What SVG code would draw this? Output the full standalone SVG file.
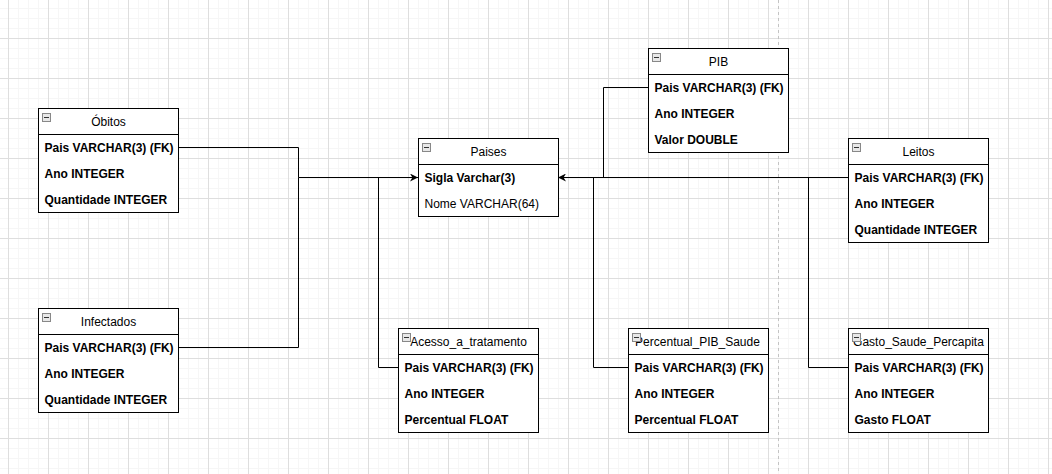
<svg xmlns="http://www.w3.org/2000/svg" width="1052" height="474" viewBox="0 0 1052 474">
<defs>
<pattern id="minor" x="8" y="-2" width="10" height="10" patternUnits="userSpaceOnUse">
<path d="M0.5 0V10M0 0.5H10" fill="none" stroke="#f6f6f6" stroke-width="1"/>
</pattern>
<pattern id="major" x="8" y="-2" width="40" height="40" patternUnits="userSpaceOnUse">
<path d="M0.5 0V40M0 0.5H40" fill="none" stroke="#dedede" stroke-width="1"/>
</pattern>
<marker id="arr" viewBox="0 0 10 10" refX="10" refY="5" markerWidth="8" markerHeight="8" markerUnits="userSpaceOnUse" orient="auto">
<path d="M0 0L10 5L0 10L3 5Z" fill="#000"/>
</marker>
<g id="icon">
<rect x="0.5" y="0.5" width="8" height="8" fill="#e8e8e8" stroke="#888"/>
<path d="M2 4.5H7" stroke="#333" stroke-width="1"/>
</g>
</defs>
<style>
.box{fill:#fff;stroke:#000;stroke-width:1}
.hd{font-family:"Liberation Sans",Arial,sans-serif;font-size:12px;fill:#000;text-anchor:middle}
.fld{font-family:"Liberation Sans",Arial,sans-serif;font-size:12px;font-weight:bold;fill:#000}
.nfld{font-family:"Liberation Sans",Arial,sans-serif;font-size:12px;fill:#000}
.ln{fill:none;stroke:#000;stroke-width:1}
</style>
<rect width="1052" height="474" fill="#fff"/>
<rect width="1052" height="474" fill="url(#minor)"/>
<rect width="1052" height="474" fill="url(#major)"/>
<line x1="778.5" y1="0" x2="778.5" y2="474" stroke="#c4c4c4" stroke-width="1" stroke-dasharray="3,3"/>

<g id="connectors">
<path class="ln" d="M178 147.5H298.5V177.5"/>
<path class="ln" d="M178 347.5H298.5V177.5"/>
<path class="ln" d="M398 367.5H378.5V177.5"/>
<path class="ln" d="M298.5 177.5H418" marker-end="url(#arr)"/>
<path class="ln" d="M648 87.5H603.5V177.5"/>
<path class="ln" d="M628 367.5H593.5V177.5"/>
<path class="ln" d="M848 367.5H808.5V177.5"/>
<path class="ln" d="M848 177.5H558" marker-end="url(#arr)"/>
</g>

<g id="obitos">
<rect class="box" x="38.5" y="108.5" width="140" height="104"/>
<line class="ln" x1="38.5" y1="134.5" x2="178.5" y2="134.5"/>
<use href="#icon" x="42" y="113"/>
<text class="hd" x="108.5" y="125.5">Óbitos</text>
<text class="fld" x="44.5" y="151.5">Pais VARCHAR(3) (FK)</text>
<text class="fld" x="44.5" y="177.5">Ano INTEGER</text>
<text class="fld" x="44.5" y="203.5">Quantidade INTEGER</text>
</g>

<g id="infectados">
<rect class="box" x="38.5" y="308.5" width="140" height="104"/>
<line class="ln" x1="38.5" y1="334.5" x2="178.5" y2="334.5"/>
<use href="#icon" x="42" y="313"/>
<text class="hd" x="108.5" y="325.5">Infectados</text>
<text class="fld" x="44.5" y="351.5">Pais VARCHAR(3) (FK)</text>
<text class="fld" x="44.5" y="377.5">Ano INTEGER</text>
<text class="fld" x="44.5" y="403.5">Quantidade INTEGER</text>
</g>

<g id="paises">
<rect class="box" x="418.5" y="138.5" width="140" height="78"/>
<line class="ln" x1="418.5" y1="164.5" x2="558.5" y2="164.5"/>
<use href="#icon" x="422" y="143"/>
<text class="hd" x="488.5" y="155.5">Paises</text>
<text class="fld" x="424.5" y="181.5">Sigla Varchar(3)</text>
<text class="nfld" x="424.5" y="207.5">Nome VARCHAR(64)</text>
</g>

<g id="pib">
<rect class="box" x="648.5" y="48.5" width="140" height="104"/>
<line class="ln" x1="648.5" y1="74.5" x2="788.5" y2="74.5"/>
<use href="#icon" x="652" y="53"/>
<text class="hd" x="718.5" y="65.5">PIB</text>
<text class="fld" x="654.5" y="91.5">Pais VARCHAR(3) (FK)</text>
<text class="fld" x="654.5" y="117.5">Ano INTEGER</text>
<text class="fld" x="654.5" y="143.5">Valor DOUBLE</text>
</g>

<g id="leitos">
<rect class="box" x="848.5" y="138.5" width="140" height="104"/>
<line class="ln" x1="848.5" y1="164.5" x2="988.5" y2="164.5"/>
<use href="#icon" x="852" y="143"/>
<text class="hd" x="918.5" y="155.5">Leitos</text>
<text class="fld" x="854.5" y="181.5">Pais VARCHAR(3) (FK)</text>
<text class="fld" x="854.5" y="207.5">Ano INTEGER</text>
<text class="fld" x="854.5" y="233.5">Quantidade INTEGER</text>
</g>

<g id="acesso">
<rect class="box" x="398.5" y="328.5" width="140" height="104"/>
<line class="ln" x1="398.5" y1="354.5" x2="538.5" y2="354.5"/>
<use href="#icon" x="402" y="333"/>
<text class="hd" x="468.5" y="345.5">Acesso_a_tratamento</text>
<text class="fld" x="404.5" y="371.5">Pais VARCHAR(3) (FK)</text>
<text class="fld" x="404.5" y="397.5">Ano INTEGER</text>
<text class="fld" x="404.5" y="423.5">Percentual FLOAT</text>
</g>

<g id="percentual">
<rect class="box" x="628.5" y="328.5" width="140" height="104"/>
<line class="ln" x1="628.5" y1="354.5" x2="768.5" y2="354.5"/>
<text class="hd" x="697.5" y="345.5">Percentual_PIB_Saude</text>
<use href="#icon" x="632" y="333"/>
<text class="fld" x="634.5" y="371.5">Pais VARCHAR(3) (FK)</text>
<text class="fld" x="634.5" y="397.5">Ano INTEGER</text>
<text class="fld" x="634.5" y="423.5">Percentual FLOAT</text>
</g>

<g id="gasto">
<rect class="box" x="848.5" y="328.5" width="140" height="104"/>
<line class="ln" x1="848.5" y1="354.5" x2="988.5" y2="354.5"/>
<text class="hd" x="918.5" y="345.5">Gasto_Saude_Percapita</text>
<use href="#icon" x="852" y="333"/>
<text class="fld" x="854.5" y="371.5">Pais VARCHAR(3) (FK)</text>
<text class="fld" x="854.5" y="397.5">Ano INTEGER</text>
<text class="fld" x="854.5" y="423.5">Gasto FLOAT</text>
</g>
</svg>
